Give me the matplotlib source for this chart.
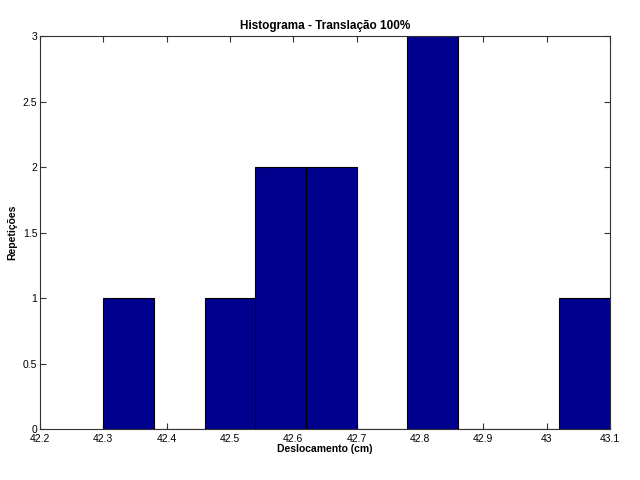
import matplotlib
matplotlib.use('Agg')
import matplotlib.pyplot as plt

plt.rcParams['font.family'] = ['Liberation Sans', 'DejaVu Sans']

# histogram bins (MATLAB hist, 10 bins) and counts
bin_edges = [42.30, 42.38, 42.46, 42.54, 42.62, 42.70, 42.78, 42.86, 42.94, 43.02, 43.10]
counts = [1, 0, 1, 2, 2, 0, 3, 0, 0, 1]
x_ticks = [42.2, 42.3, 42.4, 42.5, 42.6, 42.7, 42.8, 42.9, 43.0, 43.1]
x_tick_labels = ['42.2', '42.3', '42.4', '42.5', '42.6', '42.7', '42.8', '42.9', '43', '43.1']
y_ticks = [0, 0.5, 1, 1.5, 2, 2.5, 3]
y_tick_labels = ['0', '0.5', '1', '1.5', '2', '2.5', '3']


def main():
    fig = plt.figure(figsize=(6.4, 4.8), dpi=100)
    ax = fig.add_axes([40 / 640, 51 / 480, 570 / 640, 393 / 480])

    lefts = bin_edges[:-1]
    widths = [bin_edges[i + 1] - bin_edges[i] for i in range(len(counts))]
    ax.bar(lefts, counts, width=widths, align='edge', color='#00008F',
           edgecolor='black', linewidth=0.8, zorder=2)

    ax.set_xlim(42.2, 43.1)
    ax.set_ylim(0, 3)
    ax.set_xticks(x_ticks)
    ax.set_xticklabels(x_tick_labels)
    ax.set_yticks(y_ticks)
    ax.set_yticklabels(y_tick_labels)
    ax.tick_params(direction='in', top=True, right=True, length=4,
                   labelsize=7.5, pad=2, color='#333333')
    ax.tick_params(axis='x', pad=3.5)
    for s in ax.spines.values():
        s.set_linewidth(0.8)
        s.set_color('#333333')

    ax.set_title('Histograma - Translação 100%', fontsize=8.5, fontweight='bold', pad=5)
    ax.set_xlabel('Deslocamento (cm)', fontsize=7.5, fontweight='bold', labelpad=0)
    ax.set_ylabel('Repetições', fontsize=7.5, fontweight='bold', labelpad=4)

    fig.savefig('out.png', dpi=100)


main()
